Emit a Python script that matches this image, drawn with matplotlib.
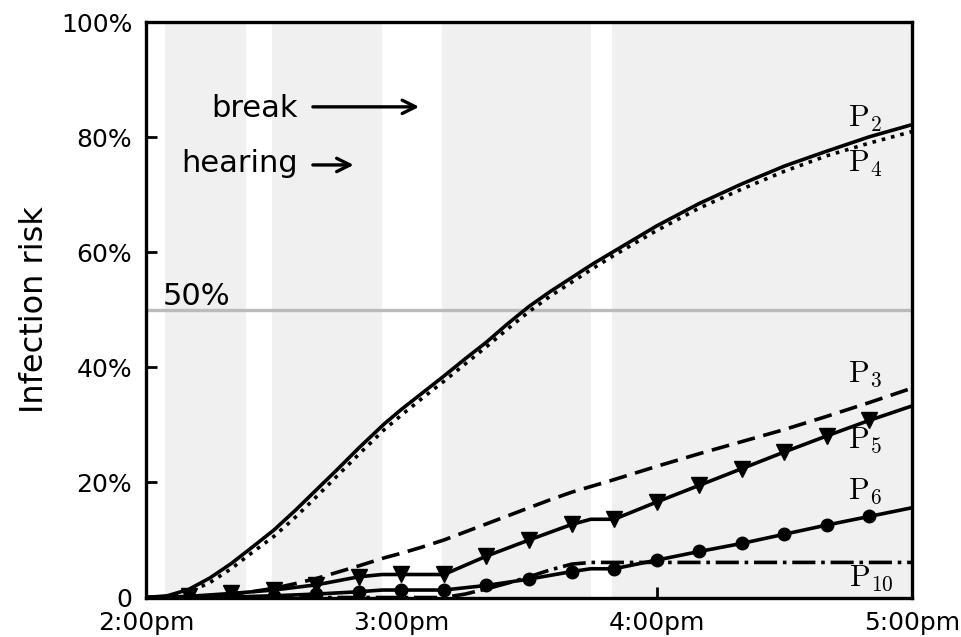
import numpy as np
import matplotlib
matplotlib.use("Agg")
import matplotlib.pyplot as plt

plt.rcParams['mathtext.fontset'] = 'cm'

#%% DATA  (minutes after 2:00pm, infection risk in %)
hearing_start = [4.5, 29.5, 69.5, 109.5]
hearing_end = [23.5, 55.5, 104.5, 180]

t_smooth = [0, 5, 10, 15, 20, 24, 30, 35, 40, 45, 50, 56, 60, 65, 70, 75, 80,
            85, 90, 95, 100, 105, 110, 120, 130, 140, 150, 160, 170, 180]
p2 = [0, 0.3, 1.4, 3.4, 5.9, 8.2, 11.7, 15.1, 18.7, 22.3, 26.0, 30.2, 32.7, 35.6,
      38.5, 41.5, 44.4, 47.6, 50.6, 53.2, 55.6, 58.0, 60.2, 64.6, 68.5, 71.9,
      75.0, 77.6, 80.1, 82.2]
p4 = [0, 0.1, 0.9, 2.6, 5.0, 7.3, 10.6, 13.9, 17.5, 21.2, 24.9, 29.2, 31.7, 34.7,
      37.6, 40.6, 43.6, 46.7, 49.7, 52.4, 54.8, 57.2, 59.5, 63.8, 67.7, 71.0,
      74.1, 76.8, 79.0, 81.0]
p3 = [0, 0, 0.1, 0.3, 0.6, 0.9, 1.6, 2.4, 3.3, 4.4, 5.5, 6.9, 7.7, 8.8, 10.0,
      11.4, 12.8, 14.2, 15.6, 17.0, 18.3, 19.4, 20.5, 22.8, 25.0, 27.1, 29.2,
      31.5, 33.9, 36.4]

t_step = [0, 10, 20, 30, 40, 50, 55.5, 60, 70, 80, 90, 100, 104.5, 110, 120,
          130, 140, 150, 160, 170, 180]
p5 = [0, 0.2, 0.7, 1.3, 2.2, 3.6, 4.0, 4.0, 4.0, 7.2, 10.0, 12.7, 13.6, 13.6,
      16.6, 19.5, 22.4, 25.3, 28.1, 30.8, 33.3]
p6 = [0, 0, 0.1, 0.3, 0.6, 1.0, 1.3, 1.3, 1.3, 2.1, 3.2, 4.5, 5.0, 5.0, 6.5,
      8.0, 9.4, 11.0, 12.6, 14.1, 15.6]

t10 = [0, 70, 75, 80, 85, 90, 95, 100, 104.5, 180]
p10 = [0, 0, 0.6, 1.5, 2.5, 3.6, 4.8, 5.8, 6.1, 6.1]

xticks = [0, 60, 120, 180]
xlabels = ['2:00pm', '3:00pm', '4:00pm', '5:00pm']
yticks = [0, 20, 40, 60, 80, 100]
ylabels = ['0', '20%', '40%', '60%', '80%', '100%']

#%% PLOT
fig, ax = plt.subplots(figsize=(9.61, 6.37), dpi=100)
fig.subplots_adjust(left=0.152, right=0.949, top=0.965, bottom=0.062)

for s, e in zip(hearing_start, hearing_end):
    ax.axvspan(s, e, color='#f0f0f0', lw=0, zorder=0)

ax.axhline(50, color='#bbbbbb', lw=2.4, zorder=1)
ax.text(4, 50.9, '50%', fontsize=22, va='baseline', ha='left')

marks = [i for i, t in enumerate(t_step) if t % 10 == 0 and 0 < t < 180]

LW = 2.6
ax.plot(t_smooth, p2, color='black', lw=LW, ls='-')
ax.plot(t_smooth, p4, color='black', lw=LW, ls=':')
ax.plot(t_smooth, p3, color='black', lw=LW, dashes=(5, 2.4))
ax.plot(t_step, p5, color='black', lw=LW, marker='v', ms=11.5, markevery=marks)
ax.plot(t_step, p6, color='black', lw=LW, marker='o', ms=9, markevery=marks)
ax.plot(t10, p10, color='black', lw=LW, ls='-.')

lab = dict(fontsize=22, ha='center', va='center')
ax.text(169, 83.2, r'$\mathrm{P}_{2}$', **lab)
ax.text(169, 75.4, r'$\mathrm{P}_{4}$', **lab)
ax.text(169, 38.8, r'$\mathrm{P}_{3}$', **lab)
ax.text(169, 27.4, r'$\mathrm{P}_{5}$', **lab)
ax.text(169, 18.4, r'$\mathrm{P}_{6}$', **lab)
ax.text(170.5, 3.4, r'$\mathrm{P}_{10}$', **lab)

ax.text(35.7, 85.0, 'break', fontsize=22, ha='right', va='center')
ax.annotate('', xy=(64.2, 85.3), xytext=(39.2, 85.3),
            arrowprops=dict(arrowstyle='->', lw=2.4, mutation_scale=24,
                            shrinkA=0, shrinkB=0))
ax.text(35.7, 75.5, 'hearing', fontsize=22, ha='right', va='center')
ax.annotate('', xy=(48.8, 75.2), xytext=(39.2, 75.2),
            arrowprops=dict(arrowstyle='->', lw=2.4, mutation_scale=24,
                            shrinkA=0, shrinkB=0))

ax.set_xlim(0, 180)
ax.set_ylim(0, 100)
ax.set_xticks(xticks)
ax.set_xticklabels(xlabels)
ax.set_yticks(yticks)
ax.set_yticklabels(ylabels)
ax.tick_params(direction='in', length=8, width=2, labelsize=18, pad=10)
ax.set_ylabel('Infection risk', fontsize=23, labelpad=8)
for sp in ax.spines.values():
    sp.set_linewidth(2.4)

fig.savefig('out.png', dpi=100)
